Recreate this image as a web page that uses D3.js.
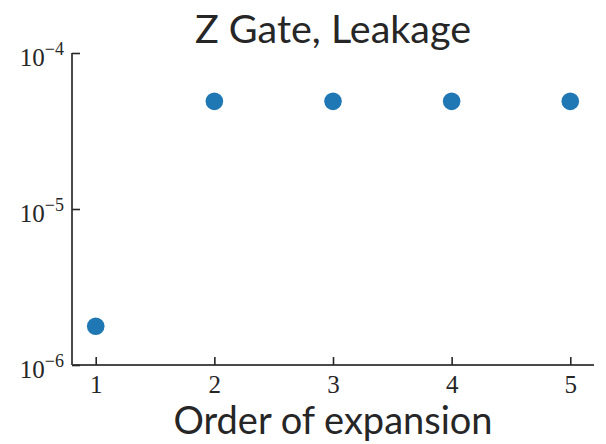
<!DOCTYPE html>
<html>
<head>
<meta charset="utf-8">
<script src="https://cdn.jsdelivr.net/npm/d3@7"></script>
<style>
  body { margin: 0; background: #fff; }
  svg { display: block; }
</style>
</head>
<body>
<div id="chart"></div>
<script>
// data
const orders = [1, 2, 3, 4, 5];
const leakage = [1.77e-6, 4.9e-5, 4.9e-5, 4.9e-5, 4.9e-5];
const yTickExps = [-6, -5, -4];
const title = "Z Gate, Leakage";
const xLabel = "Order of expansion";

const width = 606, height = 444;
const margin = { top: 53, right: 12, bottom: 79, left: 72 };
const innerW = width - margin.left - margin.right;
const innerH = height - margin.top - margin.bottom;

const svg = d3.select("#chart")
  .append("svg")
  .attr("width", width)
  .attr("height", height);

const g = svg.append("g")
  .attr("transform", "translate(" + margin.left + "," + margin.top + ")");

const x = d3.scaleLinear()
  .domain([0.8, 5.2])
  .range([0, innerW]);

const y = d3.scaleLog()
  .domain([1e-6, 1e-4])
  .range([innerH, 0]);

// x axis, ticks pointing inward
const xAxis = g.append("g")
  .attr("transform", "translate(0," + innerH + ")")
  .call(d3.axisBottom(x).tickValues(orders).tickFormat(d3.format("d")).tickSize(-8).tickPadding(10));

// y axis, ticks pointing inward
const yAxis = g.append("g")
  .call(d3.axisLeft(y).tickValues(yTickExps.map(e => Math.pow(10, e))).tickFormat("").tickSize(-8).tickPadding(8));

[xAxis, yAxis].forEach(ax => {
  ax.select(".domain").attr("stroke", "#4a4a4a").attr("stroke-width", 2);
  ax.selectAll(".tick line").attr("stroke", "#262626").attr("stroke-width", 1.6);
  ax.selectAll("text")
    .attr("font-family", "'Liberation Serif', 'DejaVu Serif', serif")
    .attr("font-size", 25)
    .attr("fill", "#262626");
});
xAxis.select(".domain").attr("d", "M0,0H" + innerW);
yAxis.select(".domain").attr("d", "M0,0V" + innerH);

// power-of-ten labels with superscripts
yAxis.selectAll(".tick text")
  .data(yTickExps)
  .attr("dy", "0.5em")
  .each(function (e) {
    const t = d3.select(this);
    t.text(null);
    t.append("tspan").text("10");
    t.append("tspan")
      .attr("dy", "-0.6em")
      .attr("font-size", 18)
      .text("\u2212" + Math.abs(e));
  });

// points
g.selectAll("circle.pt")
  .data(orders.map((o, i) => ({ o: o, v: leakage[i] })))
  .enter()
  .append("circle")
  .attr("class", "pt")
  .attr("cx", d => x(d.o))
  .attr("cy", d => y(d.v))
  .attr("r", 8.8)
  .attr("fill", "#1f77b4");

// title and axis label
svg.append("text")
  .attr("x", margin.left + innerW / 2)
  .attr("y", 43)
  .attr("text-anchor", "middle")
  .attr("font-family", "Lato, 'Open Sans', sans-serif")
  .attr("font-size", 39.5)
  .attr("fill", "#262626")
  .text(title);

svg.append("text")
  .attr("x", margin.left + innerW / 2)
  .attr("y", 434)
  .attr("text-anchor", "middle")
  .attr("font-family", "Lato, 'Open Sans', sans-serif")
  .attr("font-size", 38)
  .attr("fill", "#262626")
  .text(xLabel);
</script>
</body>
</html>
